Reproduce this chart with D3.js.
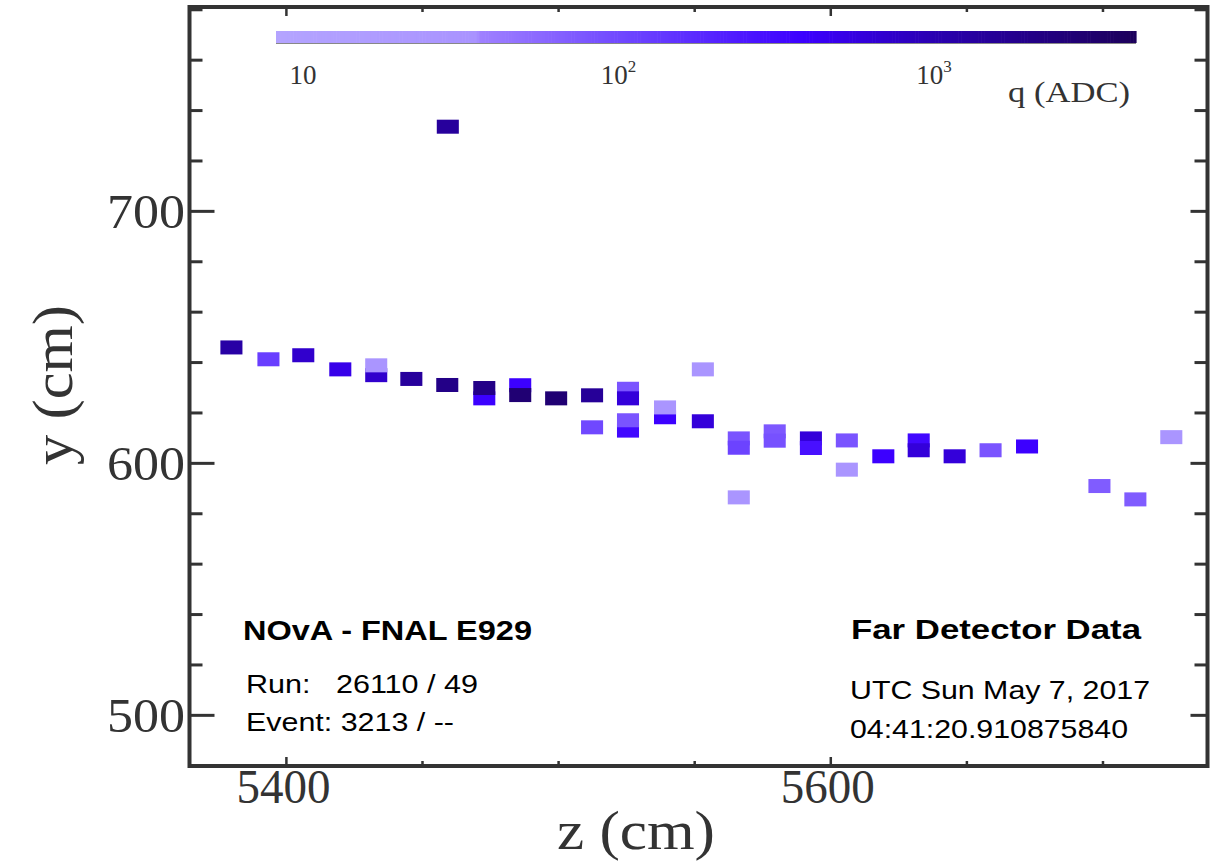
<!DOCTYPE html>
<html><head><meta charset="utf-8">
<script src="https://cdn.jsdelivr.net/npm/d3@7"></script>
<style>body{margin:0;background:#fff;} svg{display:block;}</style>
</head><body><svg id="c" width="1217" height="864"></svg>
<script>
// hit data (draw order matters where hits overlap)
const hitZ = [5379.8,5393.4,5406.2,5419.8,5433.0,5433.0,5445.9,5459.1,5472.7,5472.7,5485.9,5485.9,5499.1,5512.3,5525.5,5525.5,5512.3,5525.5,5525.5,5539.1,5539.1,5553.0,5553.0,5566.2,5566.2,5566.2,5579.4,5579.4,5592.7,5592.7,5605.9,5605.9,5619.3,5632.3,5632.3,5645.5,5658.7,5672.1,5698.7,5711.9,5725.1,5459.3];
const hitY = [646.0,641.3,642.9,637.3,635.0,638.9,633.5,631.1,625.8,629.9,631.0,627.1,625.8,627.0,629.6,625.8,614.3,613.0,617.1,618.3,622.2,637.3,616.7,609.9,606.2,586.5,612.7,609.0,609.9,606.1,609.1,597.5,602.8,609.1,605.2,602.8,605.2,606.7,591.0,585.7,610.4,733.6];
const hitQ = [1200,120,700,500,700,30,1400,2000,380,2000,380,2800,2800,1500,80,600,100,330,80,380,30,30,600,80,110,30,75,85,600,280,80,30,380,330,600,600,80,380,70,70,30,1400];

const yTicks = [500,600,700];
const xTicks = [5400,5600];
const qTicks = [10,100,1000];
const qTickLabels = [["10",""],["10","2"],["10","3"]];
const zDomain = [5364.4,5738.4];
const yDomain = [479.9,781.1];
const qDomain = [8.1,4300];

const svg = d3.select("#c");
const L=189.5, R=1207.5, T=7, B=766;
const x = d3.scaleLinear().domain(zDomain).range([L,R]);
const y = d3.scaleLinear().domain(yDomain).range([B,T]);
const color = d3.scaleLog()
  .domain([8,35,36,100,380,1000,4300])
  .range(["#b4a4ff","#a993ff","#9f80ff","#7048ff","#3c00ff","#2a00b0","#1c005a"])
  .interpolate(d3.interpolateRgb).clamp(true);

const dz=4.05, dy=2.78;
svg.append("g").selectAll("rect").data(hitZ.map((z,i)=>({z, y:hitY[i], q:hitQ[i]})))
  .join("rect")
  .attr("x",d=>x(d.z-dz)).attr("y",d=>y(d.y+dy))
  .attr("width",d=>x(d.z+dz)-x(d.z-dz)).attr("height",d=>y(d.y-dy)-y(d.y+dy))
  .attr("fill",d=>color(d.q));

// colorbar
const qx = d3.scaleLog().domain(qDomain).range([276,1136]);
const nSteps = 300;
const lq0 = Math.log10(qDomain[0]), lq1 = Math.log10(qDomain[1]);
const steps = d3.range(nSteps).map(i=>Math.pow(10, lq0 + (lq1-lq0)*i/nSteps));
const stepsHi = d3.range(1,nSteps+1).map(i=>Math.pow(10, lq0 + (lq1-lq0)*i/nSteps));
svg.append("g").selectAll("rect").data(steps).join("rect")
  .attr("x",(d)=>qx(d)).attr("y",31)
  .attr("width",(d,i)=>qx(stepsHi[i])-qx(d)+0.6).attr("height",12)
  .attr("fill",d=>color(d*1.01));
svg.append("line").attr("x1",276).attr("x2",1136).attr("y1",43.5).attr("y2",43.5).attr("stroke","#888").attr("stroke-width",1);

const cb = svg.append("g").attr("font-family","Liberation Serif").attr("fill","#333");
qTicks.forEach((q,i)=>{
  const t = cb.append("text").attr("x",qx(q)-2).attr("y",84).attr("font-size",27).attr("text-anchor","middle");
  t.append("tspan").text(qTickLabels[i][0]);
  if(qTickLabels[i][1]) t.append("tspan").attr("dy",-12).attr("font-size",17).text(qTickLabels[i][1]);
});
cb.append("text").attr("x",1130).attr("y",102).attr("font-size",30).attr("text-anchor","end").attr("textLength",122).attr("lengthAdjust","spacingAndGlyphs").text("q (ADC)");

// frame & ticks
const fr = svg.append("g").attr("stroke","#333").attr("fill","none");
const yMinor = d3.range(480,781,20);
const xMinor = d3.range(5400,5738,50);
yMinor.forEach(v=>{
  const major = yTicks.includes(v);
  fr.append("line").attr("x1",L).attr("x2",L+(major?25:13)).attr("y1",y(v)).attr("y2",y(v)).attr("stroke-width",3);
  fr.append("line").attr("x1",R).attr("x2",R-(major?17:13)).attr("y1",y(v)).attr("y2",y(v)).attr("stroke-width",3);
});
xMinor.forEach(v=>{
  const major = xTicks.includes(v);
  fr.append("line").attr("y1",B).attr("y2",B-(major?9:5)).attr("x1",x(v)).attr("x2",x(v)).attr("stroke-width",2.5);
  fr.append("line").attr("y1",T).attr("y2",T+(major?9:5)).attr("x1",x(v)).attr("x2",x(v)).attr("stroke-width",2.5);
});
fr.append("rect").attr("x",L).attr("y",T).attr("width",R-L).attr("height",B-T).attr("stroke-width",4);

// axis labels
const ax = svg.append("g").attr("font-family","Liberation Serif").attr("fill","#333");
yTicks.forEach(v=>ax.append("text").attr("x",185).attr("y",y(v)+17).attr("font-size",49).attr("text-anchor","end").attr("textLength",78).attr("lengthAdjust","spacingAndGlyphs").text(v));
xTicks.forEach(v=>ax.append("text").attr("x",x(v)-3).attr("y",803).attr("font-size",48).attr("text-anchor","middle").attr("textLength",94).attr("lengthAdjust","spacingAndGlyphs").text(v));
ax.append("text").attr("transform","translate(72,385) rotate(-90)").attr("font-size",56).attr("text-anchor","middle").attr("textLength",160).attr("lengthAdjust","spacingAndGlyphs").text("y (cm)");
ax.append("text").attr("x",636).attr("y",849).attr("font-size",54).attr("text-anchor","middle").attr("textLength",158).attr("lengthAdjust","spacingAndGlyphs").text("z (cm)");

// annotations
const an = svg.append("g").attr("font-family","Liberation Sans").attr("fill","#000");
an.append("text").attr("x",243).attr("y",640).attr("font-size",27).attr("font-weight","bold").attr("textLength",289).attr("lengthAdjust","spacingAndGlyphs").text("NOvA - FNAL E929");
an.append("text").attr("x",246).attr("y",693).attr("font-size",25).style("white-space","pre").attr("textLength",232).attr("lengthAdjust","spacingAndGlyphs").text("Run:   26110 / 49");
an.append("text").attr("x",246).attr("y",731).attr("font-size",25).attr("textLength",208).attr("lengthAdjust","spacingAndGlyphs").text("Event: 3213 / --");
an.append("text").attr("x",851).attr("y",639).attr("font-size",27).attr("font-weight","bold").attr("textLength",290).attr("lengthAdjust","spacingAndGlyphs").text("Far Detector Data");
an.append("text").attr("x",850).attr("y",699).attr("font-size",25).attr("textLength",300).attr("lengthAdjust","spacingAndGlyphs").text("UTC Sun May 7, 2017");
an.append("text").attr("x",850).attr("y",738).attr("font-size",25).attr("textLength",278).attr("lengthAdjust","spacingAndGlyphs").text("04:41:20.910875840");
</script></body></html>
